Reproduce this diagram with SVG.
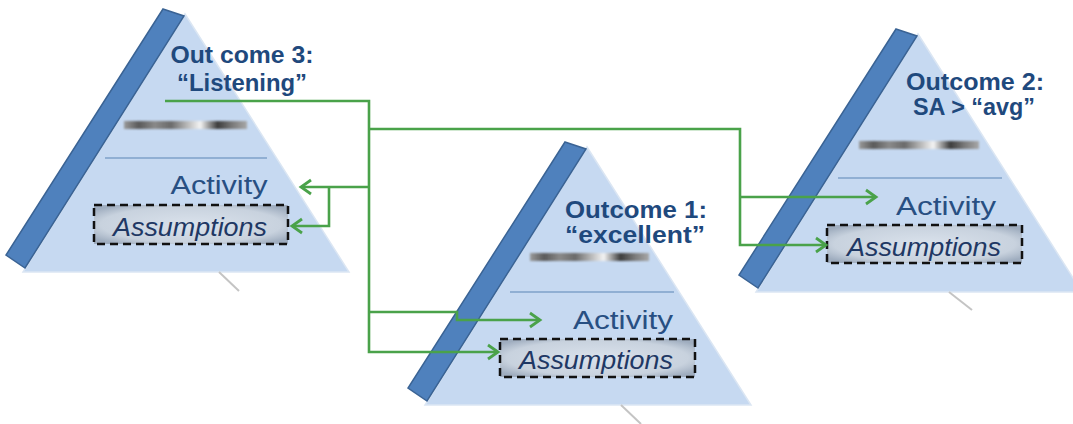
<svg xmlns="http://www.w3.org/2000/svg" xmlns:xlink="http://www.w3.org/1999/xlink" width="1073" height="424" viewBox="0 0 1073 424">
<style>
.tri{fill:#c6d9f1;stroke:#dbe6f3;stroke-width:1.5}
.bar{fill:#4f81bd;stroke:#3a6394;stroke-width:1.5}
.tick{stroke:#c4c4c4;stroke-width:2}
.sep{stroke:#7ea0c9;stroke-width:1.3}
.blur{fill:url(#gBlur);filter:url(#fBlur)}
.box{fill:url(#gBox);stroke:#111;stroke-width:2.5;stroke-dasharray:8 5}
.title{font-family:"Liberation Sans",Arial,sans-serif;font-weight:bold;font-size:24px;fill:#1f497d;text-anchor:middle}
.act{font-family:"Liberation Sans",Arial,sans-serif;font-size:26px;fill:#284f82;text-anchor:middle}
.asm{font-family:"Liberation Sans",Arial,sans-serif;font-style:italic;font-size:25px;fill:#1f3864;text-anchor:middle}
.conn{fill:none;stroke:#4aa24a;stroke-width:2.6}
.arr{marker-end:url(#ah)}
</style>
<defs>
<linearGradient id="gBlur" x1="0" y1="0" x2="1" y2="0">
<stop offset="0" stop-color="#9a9a9a"/>
<stop offset="0.12" stop-color="#5a5a5a"/>
<stop offset="0.25" stop-color="#8a8a8a"/>
<stop offset="0.38" stop-color="#6a6a6a"/>
<stop offset="0.5" stop-color="#b0b0b0"/>
<stop offset="0.62" stop-color="#f4f4f4"/>
<stop offset="0.76" stop-color="#3c3c3c"/>
<stop offset="0.88" stop-color="#7a7a7a"/>
<stop offset="1" stop-color="#a8a8a8"/>
</linearGradient>
<filter id="fBlur" x="-10%" y="-60%" width="120%" height="220%">
<feGaussianBlur stdDeviation="1.2"/>
</filter>
<radialGradient id="gBox" cx="0.5" cy="0.5" r="0.62">
<stop offset="0" stop-color="#dae2ec"/>
<stop offset="0.75" stop-color="#c8d2de"/>
<stop offset="1" stop-color="#9fadbf"/>
</radialGradient>
<marker id="ah" viewBox="-13 -9 16 18" refX="0" refY="0" markerWidth="16" markerHeight="18" markerUnits="userSpaceOnUse" orient="auto">
<path d="M-10,-7 L0,0 L-10,7" fill="none" stroke="#4aa24a" stroke-width="2.8"/>
</marker>
</defs>

<g id="pyramid3">
<polygon class="tri" points="185,14 23,272 349,272"/>
<line class="tick" x1="219" y1="272" x2="239" y2="291"/>
<polygon class="bar" points="163,9 184,16 25,268 6,255"/>
<rect class="blur" x="124" y="121" width="123" height="8"/>
<line class="sep" x1="105" y1="158" x2="267" y2="158"/>
<text class="title" x="242" y="63" textLength="143" lengthAdjust="spacingAndGlyphs">Out come 3:</text>
<text class="title" x="242" y="91" textLength="130" lengthAdjust="spacingAndGlyphs">“Listening”</text>
<text class="act" x="219" y="194" textLength="97" lengthAdjust="spacingAndGlyphs">Activity</text>
<rect class="box" x="94" y="205" width="194" height="39"/>
<text class="asm" x="190" y="236" textLength="154" lengthAdjust="spacingAndGlyphs">Assumptions</text>
</g>

<g id="pyramid1" transform="translate(402,133)">
<polygon class="tri" points="185,14 23,272 349,272"/>
<line class="tick" x1="219" y1="272" x2="239" y2="291"/>
<polygon class="bar" points="163,9 184,16 25,268 6,255"/>
<rect class="blur" x="128" y="120" width="119" height="8"/>
<line class="sep" x1="108" y1="159" x2="272" y2="159"/>
<text class="title" x="234" y="85" textLength="142" lengthAdjust="spacingAndGlyphs">Outcome 1:</text>
<text class="title" x="233" y="110" textLength="140" lengthAdjust="spacingAndGlyphs">“excellent”</text>
<text class="act" x="221" y="196" textLength="100" lengthAdjust="spacingAndGlyphs">Activity</text>
<rect class="box" x="98" y="206" width="195" height="38"/>
<text class="asm" x="194" y="236" textLength="154" lengthAdjust="spacingAndGlyphs">Assumptions</text>
</g>

<g id="pyramid2" transform="translate(733,20)">
<polygon class="tri" points="185,14 23,272 349,272"/>
<line class="tick" x1="216" y1="272" x2="239" y2="290"/>
<polygon class="bar" points="163,9 184,16 25,268 6,255"/>
<rect class="blur" x="126" y="121" width="120" height="8"/>
<line class="sep" x1="105" y1="158" x2="269" y2="158"/>
<text class="title" x="242" y="70" textLength="138" lengthAdjust="spacingAndGlyphs">Outcome 2:</text>
<text class="title" x="241" y="95" textLength="122" lengthAdjust="spacingAndGlyphs">SA &gt; “avg”</text>
<text class="act" x="213" y="195" textLength="100" lengthAdjust="spacingAndGlyphs">Activity</text>
<rect class="box" x="94" y="205" width="195" height="38"/>
<text class="asm" x="191" y="236" textLength="154" lengthAdjust="spacingAndGlyphs">Assumptions</text>
</g>

<g id="connectors">
<path class="conn arr" d="M165,101 H369 V352 H498"/>
<path class="conn arr" d="M369,129 H740 V245 H826"/>
<path class="conn arr" d="M740,197 H876"/>
<path class="conn arr" d="M369,187 H301"/>
<path class="conn arr" d="M329,187 V226 H292"/>
<path class="conn arr" d="M369,312 H457 V320 H540"/>
</g>
</svg>
